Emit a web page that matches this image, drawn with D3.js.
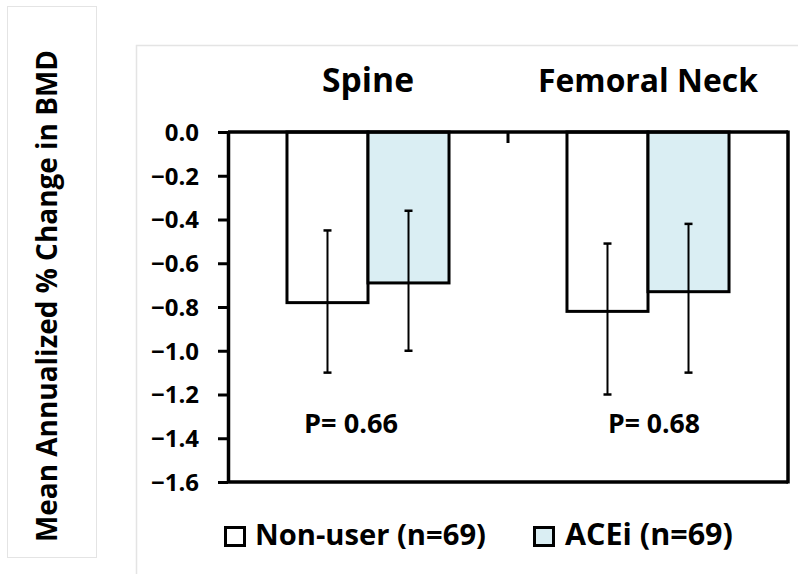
<!DOCTYPE html>
<html><head><meta charset="utf-8">
<script src="https://cdn.jsdelivr.net/npm/d3@7/dist/d3.min.js"></script>
<style>body{margin:0;background:#fff}svg{display:block}text{font-family:"Open Sans",Lato,sans-serif;font-weight:bold;fill:#000}</style>
</head><body>
<svg id="c" width="798" height="574"></svg>
<script>
const categories = ["Spine", "Femoral Neck"];
const seriesNames = ["Non-user (n=69)", "ACEi (n=69)"];
const nonUser = [-0.78, -0.82];
const acei = [-0.69, -0.73];
const nonUserErrTop = [-0.45, -0.51];
const nonUserErrBottom = [-1.10, -1.20];
const aceiErrTop = [-0.36, -0.42];
const aceiErrBottom = [-1.00, -1.10];
const pValues = ["P= 0.66", "P= 0.68"];
const yTicks = [0.0, -0.2, -0.4, -0.6, -0.8, -1.0, -1.2, -1.4, -1.6];
const colors = ["#ffffff", "#daeef3"];

const svg = d3.select("#c");
// scale a text node's font size so its width matches a target width
function fit(sel, target) {
  const fs = parseFloat(sel.attr("font-size"));
  const w = sel.node().getComputedTextLength();
  sel.attr("font-size", (fs * target / w).toFixed(2));
  return sel;
}

// panels
svg.append("rect").attr("x",7.5).attr("y",6.5).attr("width",89).attr("height",551).attr("fill","none").attr("stroke","#e4e4e4");
svg.append("path").attr("d","M136.5,574V45.5H798").attr("fill","none").attr("stroke","#e4e4e4").attr("stroke-width",1.5);

const y = d3.scaleLinear().domain([-1.6, 0]).range([482, 132]);
const x0 = d3.scaleBand().domain(categories).range([228, 788]).padding(0);
const x1 = d3.scaleBand().domain(seriesNames).range([0, x0.bandwidth()]).paddingInner(0).paddingOuter(0.728);

const series = [
  {name: seriesNames[0], vals: nonUser, top: nonUserErrTop, bot: nonUserErrBottom, color: colors[0]},
  {name: seriesNames[1], vals: acei, top: aceiErrTop, bot: aceiErrBottom, color: colors[1]}
];

// bars
series.forEach(s => {
  categories.forEach((c, i) => {
    const bx = x0(c) + x1(s.name);
    svg.append("rect").attr("x", bx).attr("y", y(0)).attr("width", x1.bandwidth())
      .attr("height", y(s.vals[i]) - y(0)).attr("fill", s.color).attr("stroke","#000").attr("stroke-width",3);
  });
});
// error bars
series.forEach(s => {
  categories.forEach((c, i) => {
    const cx = x0(c) + x1(s.name) + x1.bandwidth()/2;
    const g = svg.append("g").attr("stroke","#000").attr("stroke-width",2);
    g.append("line").attr("x1",cx).attr("x2",cx).attr("y1",y(s.top[i])).attr("y2",y(s.bot[i]));
    g.append("line").attr("x1",cx-4).attr("x2",cx+4).attr("y1",y(s.top[i])).attr("y2",y(s.top[i])).attr("stroke-width",2.5);
    g.append("line").attr("x1",cx-4).attr("x2",cx+4).attr("y1",y(s.bot[i])).attr("y2",y(s.bot[i])).attr("stroke-width",2.5);
  });
});

// y axis
const yAxis = d3.axisLeft(y).tickValues(yTicks).tickFormat(d3.format(".1f")).tickSize(10).tickSizeOuter(0);
const ya = svg.append("g").attr("transform","translate(228,0)").call(yAxis);
ya.attr("font-size",null).attr("font-family",null);
ya.select(".domain").attr("stroke","#000").attr("stroke-width",3.5);
ya.selectAll(".tick line").attr("stroke","#000").attr("stroke-width",3);
const tickTexts = ya.selectAll(".tick text").attr("x",-29).attr("font-size",22).attr("dy","0.35em").attr("fill","#000");
{
  const ref = tickTexts.filter(d => d === -0.2);
  fit(ref, 48);
  tickTexts.attr("font-size", ref.attr("font-size"));
}

// box top/right/bottom
svg.append("line").attr("x1",228).attr("x2",788).attr("y1",y(0)).attr("y2",y(0)).attr("stroke","#000").attr("stroke-width",3.5);
svg.append("line").attr("x1",788).attr("x2",788).attr("y1",y(0)-1.5).attr("y2",y(-1.6)+1.5).attr("stroke","#000").attr("stroke-width",3.5);
svg.append("line").attr("x1",228).attr("x2",788).attr("y1",y(-1.6)).attr("y2",y(-1.6)).attr("stroke","#000").attr("stroke-width",3.5);
// category divider tick
svg.append("line").attr("x1",x0(categories[1])).attr("x2",x0(categories[1])).attr("y1",y(0)).attr("y2",y(0)+11).attr("stroke","#000").attr("stroke-width",3);

// category titles
const titleW = [92, 220];
categories.forEach((c, i) => {
  fit(svg.append("text").attr("x", x0(c)+x0.bandwidth()/2).attr("y", 92).attr("text-anchor","middle")
    .attr("font-size",28).text(c), titleW[i]);
});
// p values
const pW = [94, 92];
categories.forEach((c, i) => {
  fit(svg.append("text").attr("x", x0(c)+x0.bandwidth()/2 + (i===0?-17:6)).attr("y", 433).attr("text-anchor","middle")
    .attr("font-size",22).text(pValues[i]), pW[i]);
});

// y label
fit(svg.append("text").attr("transform","translate(57,296) rotate(-90)").attr("text-anchor","middle")
  .attr("font-size",24).text("Mean Annualized % Change in BMD"), 492);

// legend
const legX = [224, 533];
const legTextX = [255, 565];
const legW = [231, 168];
series.forEach((s, i) => {
  svg.append("rect").attr("x", legX[i]+1.5).attr("y", 527.5).attr("width", 19).attr("height", 18)
    .attr("fill", s.color).attr("stroke","#000").attr("stroke-width",3);
  fit(svg.append("text").attr("x", legTextX[i]).attr("y", 545).attr("font-size",26).text(s.name), legW[i]);
});
</script>
</body></html>
